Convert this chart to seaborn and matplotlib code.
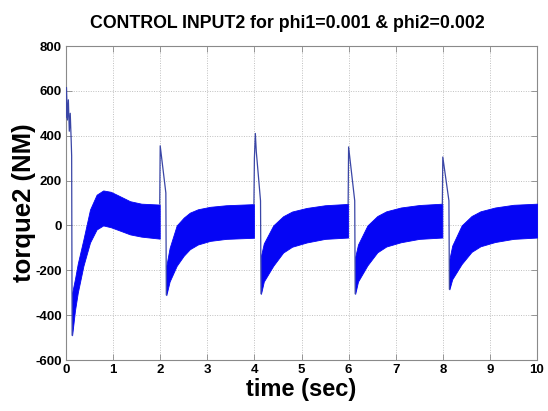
import numpy as np
import pandas as pd
import matplotlib
matplotlib.use("Agg")
import matplotlib.pyplot as plt
import seaborn as sns

# ---------------- data ----------------
title = "CONTROL INPUT2 for phi1=0.001 & phi2=0.002"
xlabel = "time (sec)"
ylabel = "torque2 (NM)"
xticks = [0, 1, 2, 3, 4, 5, 6, 7, 8, 9, 10]
yticks = [-600, -400, -200, 0, 200, 400, 600, 800]

# decaying switching spikes at the start of each 2 s interval
spike1_t = [0.0, 0.01, 0.03, 0.05, 0.07, 0.09, 0.11, 0.12, 0.13]
spike1_v = [480, 615, 470, 560, 420, 500, 380, 310, -490]
spike2_t = [1.99, 2.0, 2.12, 2.13]
spike2_v = [95, 355, 145, -310]
spike3_t = [3.99, 4.0, 4.02, 4.04, 4.13, 4.14]
spike3_v = [95, 300, 410, 330, 110, -305]
spike4_t = [5.99, 6.0, 6.13, 6.14]
spike4_v = [95, 350, 110, -305]
spike5_t = [7.99, 8.0, 8.13, 8.14]
spike5_v = [95, 305, 110, -285]

# chattering band envelopes (upper / lower) per interval
band1_t = [0.13, 0.19, 0.25, 0.37, 0.51, 0.65, 0.79, 0.95, 1.08, 1.36, 1.6, 1.99]
band1_hi = [-300, -239, -170, -62, 71, 137, 156, 150, 137, 108, 97, 93]
band1_lo = [-490, -380, -300, -180, -76, -18, 0, -8, -18, -40, -50, -59]

band2_t = [2.13, 2.2, 2.35, 2.5, 2.63, 2.8, 3.06, 3.4, 3.99]
band2_hi = [-180, -100, 0, 35, 57, 72, 83, 90, 95]
band2_lo = [-311, -250, -180, -135, -106, -85, -69, -60, -55]

band3_t = [4.14, 4.2, 4.4, 4.61, 4.8, 5.11, 5.5, 5.99]
band3_hi = [-135, -80, 0, 41, 62, 78, 90, 96]
band3_lo = [-305, -250, -180, -121, -95, -76, -60, -54]

band4_t = [6.14, 6.2, 6.4, 6.61, 6.8, 7.11, 7.5, 7.99]
band4_hi = [-140, -85, 0, 42, 63, 80, 91, 97]
band4_lo = [-305, -250, -178, -120, -94, -75, -60, -54]

band5_t = [8.14, 8.2, 8.4, 8.61, 8.8, 9.11, 9.5, 10.0]
band5_hi = [-150, -90, 0, 42, 63, 80, 92, 97]
band5_lo = [-285, -240, -172, -118, -93, -74, -60, -54]

spikes = [(spike1_t, spike1_v), (spike2_t, spike2_v), (spike3_t, spike3_v),
          (spike4_t, spike4_v), (spike5_t, spike5_v)]
bands = [(band1_t, band1_hi, band1_lo), (band2_t, band2_hi, band2_lo),
         (band3_t, band3_hi, band3_lo), (band4_t, band4_hi, band4_lo),
         (band5_t, band5_hi, band5_lo)]

# ---------------- style ----------------
sns.set_style("white")
plt.rcParams['font.family'] = ['Liberation Sans', 'DejaVu Sans']
plt.rcParams['font.weight'] = 'bold'
plt.rcParams['axes.unicode_minus'] = False
plt.rcParams['text.color'] = 'black'
plt.rcParams['axes.labelcolor'] = 'black'
plt.rcParams['xtick.labelcolor'] = 'black'
plt.rcParams['ytick.labelcolor'] = 'black'

fig = plt.figure(figsize=(5.48, 4.11), dpi=100)
ax = fig.add_axes([66/548, 51/411, 471/548, 314/411])

band_color = "#0505f5"
spike_color = "#3a46a6"

for t, hi, lo in bands:
    ax.fill_between(t, lo, hi, color=band_color, linewidth=0.6, edgecolor=band_color, zorder=3)

for i, (t, v) in enumerate(spikes):
    df = pd.DataFrame({"t": t, "v": v})
    sns.lineplot(data=df, x="t", y="v", sort=False, estimator=None,
                 color=spike_color, linewidth=0.9, ax=ax, zorder=4)

ax.set_xlim(0, 10)
ax.set_ylim(-600, 800)
ax.set_xticks(xticks)
ax.set_yticks(yticks)
ax.set_xticklabels([str(x) for x in xticks], fontsize=9.5, fontweight='bold', color='black')
ax.set_yticklabels([str(y) for y in yticks], fontsize=9.5, fontweight='bold', color='black')

ax.grid(True, linestyle=(0, (1, 1.5)), color="#c0c0c0", linewidth=0.7, zorder=0)
ax.set_axisbelow(True)
ax.tick_params(direction='in', length=4, width=0.6, color="#888888",
               top=True, right=True, bottom=True, left=True, pad=3)
for s in ax.spines.values():
    s.set_color("#8a8a8a")
    s.set_linewidth(0.8)
    s.set_visible(True)

ax.set_title(title, fontsize=12.8, fontweight='bold', pad=13, color='black', x=0.47)
ax.set_xlabel(xlabel, fontsize=17, fontweight='bold', labelpad=1, color='black')
ax.set_ylabel(ylabel, fontsize=18.5, fontweight='bold', labelpad=-0.5, color='black')

fig.savefig("out.png", dpi=100)
